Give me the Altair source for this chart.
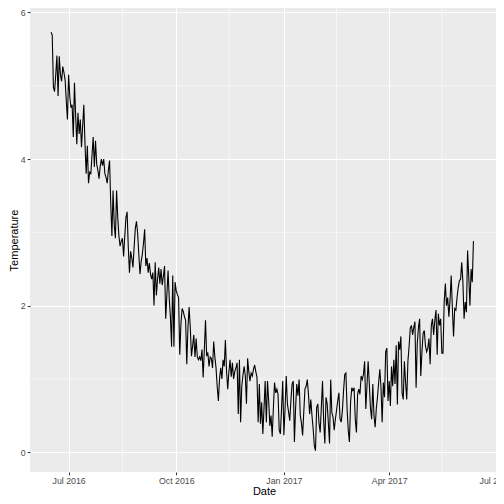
import altair as alt
import pandas as pd

start_date = "2016-06-16"

temp_jun_jul_2016 = [5.73, 5.69, 4.98, 4.92, 5.15, 5.41, 4.86, 5.40, 5.15, 5.06, 5.26, 5.18, 5.08, 4.80,
                     4.54, 5.15, 4.85, 4.70, 4.74, 4.30, 5.04, 4.60, 4.20, 4.63, 4.34, 4.54, 4.16, 4.45,
                     4.74, 4.20, 3.80]
temp_jul_aug_2016 = [4.18, 3.67, 3.82, 3.80, 4.05, 4.30, 3.89, 4.25, 3.93, 3.85, 3.73, 3.90, 4.00, 3.91,
                     4.00, 3.80, 3.75, 3.67, 3.85, 3.98, 3.40, 2.95, 3.57, 3.10, 2.92, 3.57, 3.20, 2.95,
                     2.81, 2.88, 2.92, 2.67, 2.95, 3.20, 3.28]
temp_aug_sep_2016 = [2.80, 2.45, 2.74, 2.65, 2.52, 2.80, 3.05, 3.15, 2.99, 2.70, 2.43, 2.60, 2.70, 2.85,
                     3.04, 2.54, 2.65, 2.45, 2.58, 2.43, 2.36, 2.45, 2.00, 2.59, 2.14, 2.36, 2.52, 2.30,
                     2.50, 2.28, 2.40, 2.54, 1.82]
temp_sep_oct_2016 = [2.15, 2.48, 2.10, 1.85, 1.44, 2.41, 1.44, 2.32, 2.20, 2.15, 2.11, 1.33, 1.75, 1.96,
                     1.92, 1.85, 1.80, 1.20, 1.70, 1.98, 1.70, 1.31, 1.45, 1.60, 1.30, 1.55, 1.30, 1.26,
                     1.30, 1.25, 1.40, 1.02, 1.40, 1.80]
temp_oct_nov_2016 = [1.31, 1.36, 1.17, 1.30, 1.28, 1.15, 1.51, 1.30, 1.15, 0.90, 0.70, 1.00, 1.15, 1.00,
                     1.26, 1.17, 1.53, 1.10, 0.86, 1.10, 1.26, 1.03, 1.22, 1.00, 1.10, 1.15, 1.22, 0.52,
                     1.26, 0.41, 0.90, 1.05, 1.17]
temp_nov_dec_2016 = [1.05, 0.66, 1.28, 1.10, 0.97, 1.08, 1.04, 1.13, 1.19, 1.10, 1.02, 0.41, 0.93, 0.39,
                     0.68, 0.25, 0.60, 0.97, 0.41, 0.97, 0.70, 0.36, 0.50, 0.21, 0.60, 0.95, 0.81, 0.86,
                     0.79, 0.30, 0.25, 0.60, 0.97, 0.23]
temp_jan_feb_2017 = [0.60, 1.04, 0.66, 0.55, 0.43, 0.70, 0.93, 0.97, 0.14, 0.60, 0.93, 0.77, 0.99, 0.50,
                     0.40, 0.23, 0.55, 0.86, 0.90, 0.99, 0.79, 0.52, 0.72, 0.50, 0.32, 0.09, 0.02, 0.61,
                     0.66, 0.40, 0.27, 0.61, 0.97, 0.43, 0.12]
temp_feb_mar_2017 = [0.75, 0.66, 0.40, 0.12, 0.99, 0.54, 0.48, 0.30, 0.45, 0.57, 0.70, 0.81, 0.45, 0.41,
                     0.57, 0.84, 1.06, 1.08, 0.60, 0.30, 0.14, 0.68, 0.88, 0.84, 0.88, 0.45, 0.27, 0.79,
                     0.86, 0.79, 1.04, 0.99, 1.06, 1.24]
temp_mar_apr_2017 = [0.59, 0.90, 1.24, 0.93, 0.60, 0.45, 0.93, 0.50, 0.34, 0.60, 0.75, 0.95, 1.13, 0.88,
                     0.41, 0.95, 0.75, 1.37, 1.42, 0.70, 0.97, 0.63, 1.17, 0.90, 1.26, 0.93, 1.46, 0.65,
                     1.51, 1.40, 1.58, 0.81]
temp_apr_may_2017 = [0.72, 1.24, 0.95, 0.72, 1.24, 1.44, 1.69, 1.73, 1.60, 1.70, 1.78, 0.88, 1.49, 1.70,
                     1.82, 1.04, 1.37, 1.62, 1.66, 1.45, 1.37, 1.42, 1.55, 1.20, 1.73, 1.82, 1.60, 1.80,
                     1.94, 1.33, 1.89, 1.73, 1.82, 1.35]
temp_may_jun_2017 = [1.35, 2.05, 2.30, 2.00, 2.11, 1.85, 2.07, 2.41, 1.96, 1.58, 1.96, 1.94, 2.11, 2.25,
                     2.34, 2.36, 2.59, 2.32, 1.82, 2.05, 1.91, 2.75, 2.40, 2.00, 2.50, 2.32, 2.88]

x_ticks = ["2016-07-01", "2016-10-01", "2017-01-01", "2017-04-01", "2017-07-01"]
x_minor = ["2016-08-16", "2016-11-15", "2017-02-15", "2017-05-16"]
x_domain = ["2016-05-29", "2017-07-03"]
y_ticks = [0, 2, 4, 6]
y_minor = [1, 3, 5]
y_domain = [-0.27, 6.06]

values = (temp_jun_jul_2016 + temp_jul_aug_2016 + temp_aug_sep_2016 + temp_sep_oct_2016 +
          temp_oct_nov_2016 + temp_nov_dec_2016 + temp_jan_feb_2017 + temp_feb_mar_2017 +
          temp_mar_apr_2017 + temp_apr_may_2017 + temp_may_jun_2017)
dates = pd.date_range(start_date, periods=len(values), freq="D").strftime("%Y-%m-%d")
df = pd.DataFrame({"Date": list(dates), "Temperature": values})


def ms(s):
    return int(pd.Timestamp(s, tz="UTC").value // 10**6)


x_scale = alt.Scale(type="utc", domain=[ms(s) for s in x_domain], nice=False)
y_scale = alt.Scale(domain=y_domain, nice=False, zero=False)

x_axis = alt.Axis(values=[ms(s) for s in x_ticks],
                  labelExpr="utcFormat(datum.value, '%b %Y')",
                  title="Date", labelPadding=1.8, titlePadding=0)
y_axis = alt.Axis(values=y_ticks, format="d", title="Temperature", labelPadding=2.2,
                  titlePadding=1)

minor_x = alt.Chart(pd.DataFrame({"m": x_minor})).mark_rule(
    color="white", strokeWidth=0.55
).encode(x=alt.X("m:T", scale=x_scale, axis=x_axis))

minor_y = alt.Chart(pd.DataFrame({"v": y_minor})).mark_rule(
    color="white", strokeWidth=0.55
).encode(y=alt.Y("v:Q", scale=y_scale, axis=y_axis))

line = alt.Chart(df).mark_line(color="black", strokeWidth=1.1).encode(
    x=alt.X("Date:T", scale=x_scale, axis=x_axis),
    y=alt.Y("Temperature:Q", scale=y_scale, axis=y_axis),
)

chart = alt.layer(minor_x, minor_y, line).properties(
    width=468, height=464,
    autosize=alt.AutoSizeParams(type="none"),
    padding={"left": 22, "top": 0, "right": -2, "bottom": 24},
).configure_view(
    fill="#EBEBEB", strokeWidth=0
).configure_axis(
    domain=False, grid=True, gridColor="white", gridWidth=1.07,
    tickColor="#333333", tickSize=2.75, tickWidth=1.07,
    labelColor="#4D4D4D", labelFontSize=8.8, labelFont="Liberation Sans",
    titleFont="Liberation Sans", titleFontSize=11, titleFontWeight="normal", titleColor="black",
)

chart.save("out.html", embed_options={"renderer": "svg", "actions": False})
